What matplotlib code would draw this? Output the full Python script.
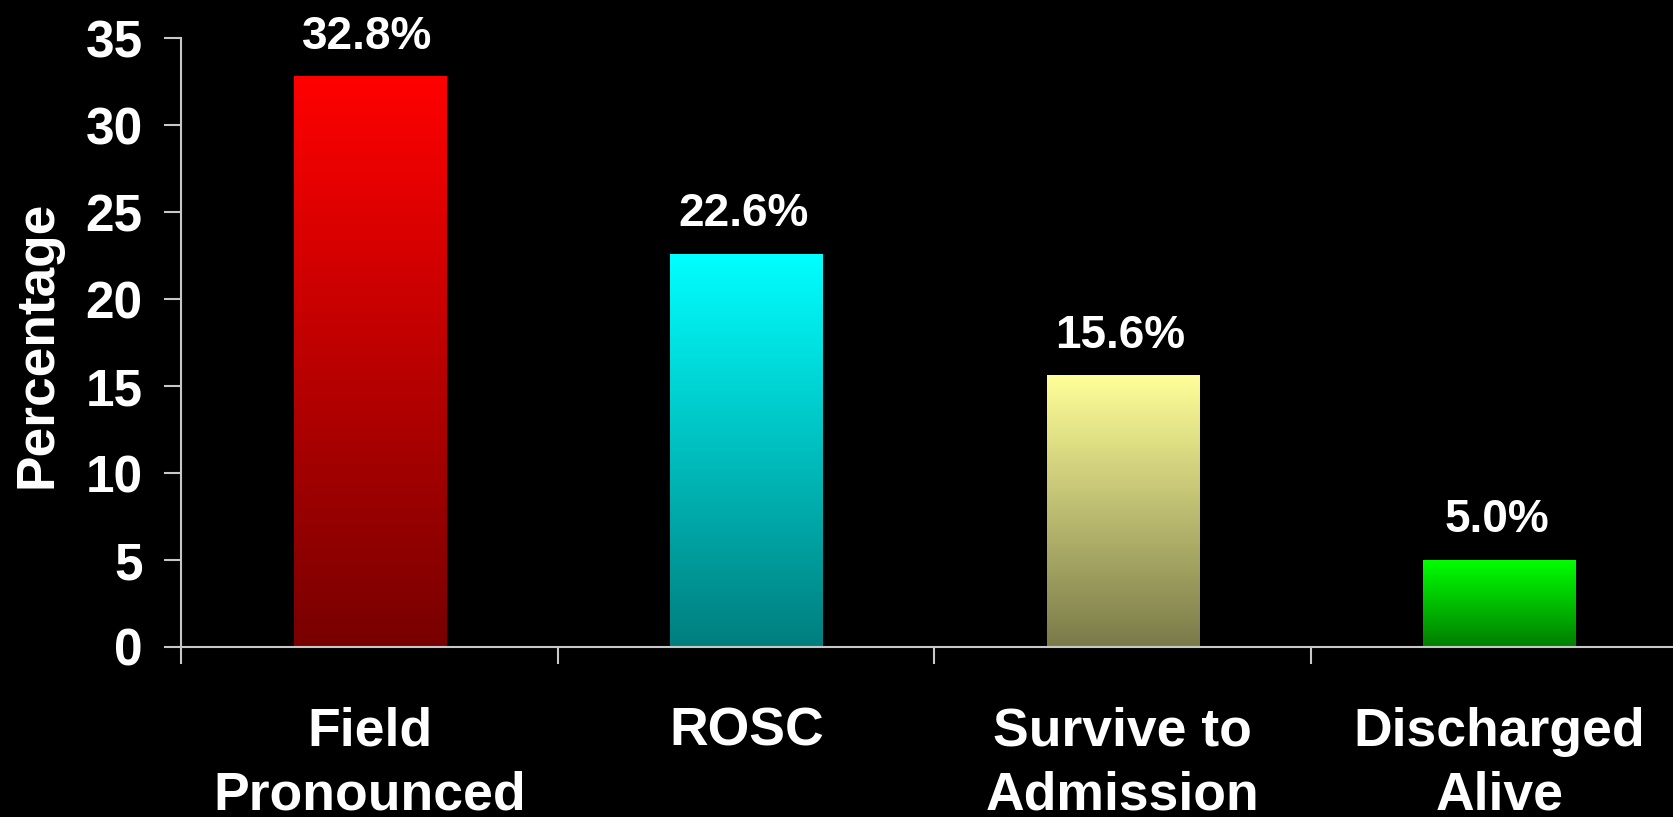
import numpy as np
import matplotlib
matplotlib.use("Agg")
import matplotlib.pyplot as plt
from matplotlib.colors import LinearSegmentedColormap

# data
categories = ["Field\nPronounced", "ROSC", "Survive to\nAdmission", "Discharged\nAlive"]
values = [32.8, 22.6, 15.6, 5.0]
value_labels = ["32.8%", "22.6%", "15.6%", "5.0%"]
yticks = [0, 5, 10, 15, 20, 25, 30, 35]

# gradient colours (top, bottom) for each bar
top_colors = ["#ff0000", "#00ffff", "#ffff99", "#00ff00"]
bottom_colors = ["#780000", "#007e7e", "#7a7a4a", "#007d00"]

plt.rcParams['font.family'] = ['Liberation Sans', 'DejaVu Sans']
plt.rcParams['font.weight'] = 'bold'

fig = plt.figure(figsize=(16.74, 8.17), dpi=100, facecolor='black')
ax = fig.add_axes([181.5/1674, 170/817, 1506/1674, 608.6/817])
ax.set_facecolor('black')

axcol = '#c8c8c8'
x = np.arange(len(values))
w = 0.405

# bars with vertical gradient
for i in range(len(values)):
    cmap = LinearSegmentedColormap.from_list('g%d' % i, [bottom_colors[i], top_colors[i]])
    grad = np.linspace(0, 1, 256).reshape(-1, 1)
    ax.imshow(grad, cmap=cmap, origin='lower', aspect='auto',
              extent=[x[i]-w/2, x[i]+w/2, 0, values[i]], zorder=2)
    ax.annotate(value_labels[i], (x[i], values[i]), xytext=(-2, 20),
                textcoords='offset points', ha='center', va='baseline',
                color='white', fontsize=33, fontweight='bold')

ax.set_xlim(-0.5, 3.5)
ax.set_ylim(0, 35)

for s in ['top', 'right']:
    ax.spines[s].set_visible(False)
for s in ['left', 'bottom']:
    ax.spines[s].set_color(axcol)
    ax.spines[s].set_linewidth(1.5)

ax.set_yticks(yticks)
ax.tick_params(axis='y', colors=axcol, length=12, width=1.5, pad=16,
               labelcolor='white', labelsize=37)

# x ticks at category boundaries, labels at centres
ax.set_xticks([-0.5, 0.5, 1.5, 2.5])
ax.set_xticklabels([])
ax.set_xticks(x, minor=True)
ax.set_xticklabels(categories, minor=True)
ax.tick_params(axis='x', which='major', colors=axcol, length=12, width=1.5)
ax.tick_params(axis='x', which='minor', length=0, pad=43,
               labelcolor='white', labelsize=38.5)
for t in ax.get_yticklabels() + ax.get_xticklabels(minor=True):
    t.set_fontweight('bold')
for t in ax.get_xticklabels(minor=True):
    t.set_linespacing(1.36)

fig.text(38/1674, 1-344/817, 'Percentage', rotation=90, ha='center', va='center',
         color='white', fontsize=38.3, fontweight='bold')

fig.savefig('out.png', dpi=100, facecolor='black')
